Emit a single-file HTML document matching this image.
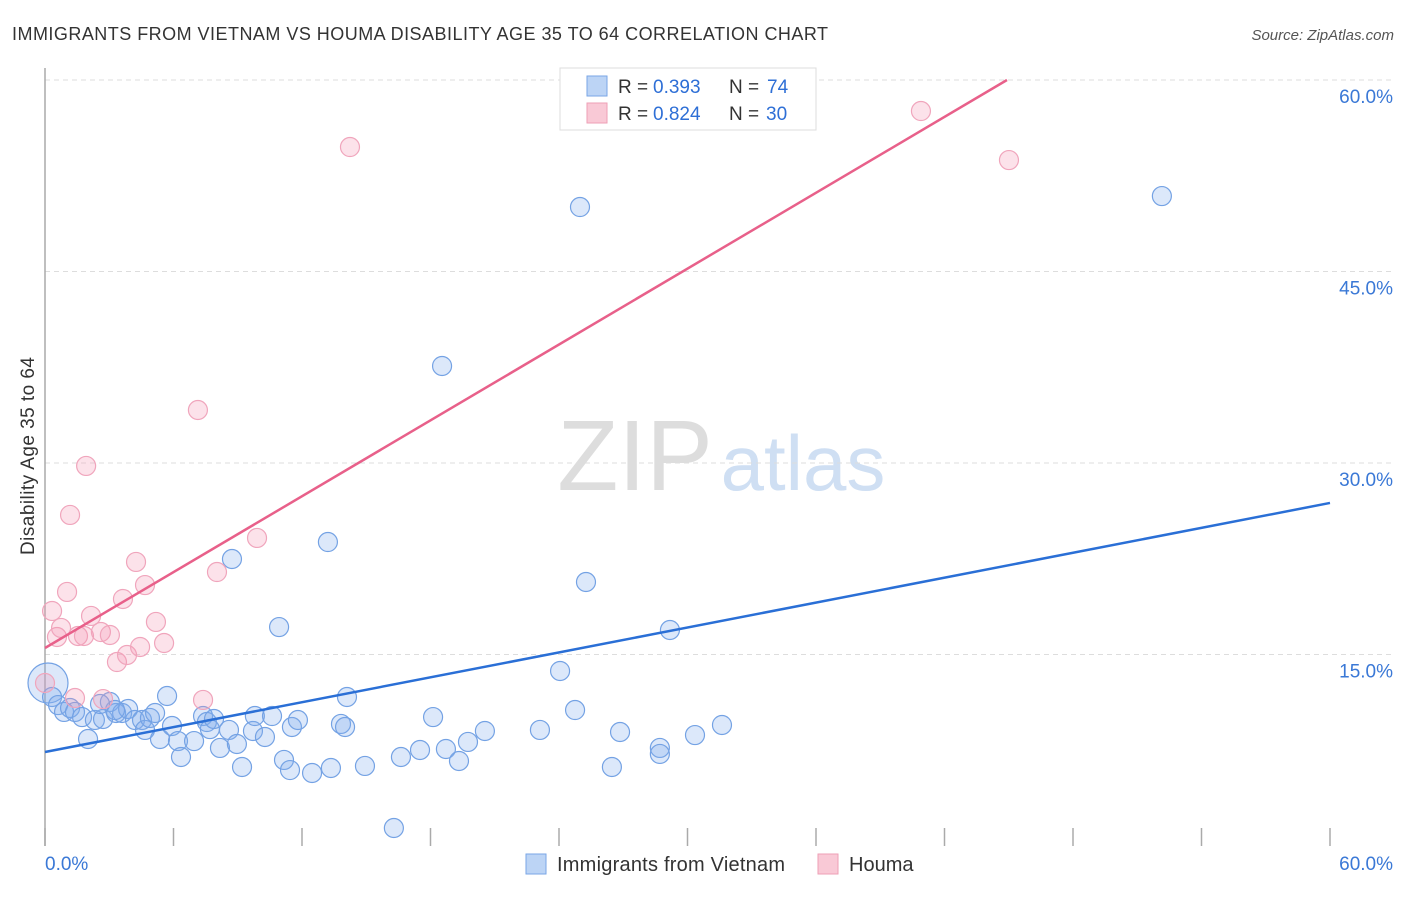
<!DOCTYPE html>
<html><head><meta charset="utf-8"><style>
body{margin:0;background:#fff;font-family:"Liberation Sans",sans-serif;}
svg text{font-family:"Liberation Sans",sans-serif;}
</style></head><body>
<svg id="chart" width="1406" height="892" xmlns="http://www.w3.org/2000/svg">
<text x="12" y="40" font-size="18" fill="#333" textLength="816">IMMIGRANTS FROM VIETNAM VS HOUMA DISABILITY AGE 35 TO 64 CORRELATION CHART</text>
<text x="1394" y="40" font-size="15" fill="#555" text-anchor="end" font-style="italic">Source: ZipAtlas.com</text>
<text x="635" y="490" font-size="100" fill="#ddd" font-family="Liberation Serif" text-anchor="middle">ZIP</text>
<text x="803" y="490" font-size="78" fill="#cfdff3" text-anchor="middle">atlas</text>
<text transform="translate(34,456) rotate(-90)" font-size="19" fill="#333" text-anchor="middle" textLength="198">Disability Age 35 to 64</text>
<g id="grid"></g><g id="axes"></g><g id="marks"></g>
<g>
<rect x="560" y="68" width="256" height="62" fill="#fff" stroke="#ddd"/>
<rect x="587" y="76" width="20" height="20" fill="#bcd4f5" stroke="#7aa6e6"/>
<rect x="587" y="103" width="20" height="20" fill="#f9c9d6" stroke="#ee9fb6"/>
<text x="618" y="93" font-size="19" fill="#333">R =</text>
<text x="653" y="93" font-size="19" fill="#2e6fd6">0.393</text>
<text x="729" y="93" font-size="19" fill="#333">N =</text>
<text x="767" y="93" font-size="19" fill="#2e6fd6">74</text>
<text x="618" y="120" font-size="19" fill="#333">R =</text>
<text x="653" y="120" font-size="19" fill="#2e6fd6">0.824</text>
<text x="729" y="120" font-size="19" fill="#333">N =</text>
<text x="766" y="120" font-size="19" fill="#2e6fd6">30</text>
</g>
<g>
<rect x="526" y="854" width="20" height="20" fill="#bcd4f5" stroke="#7aa6e6"/>
<text x="557" y="871" font-size="20" fill="#333" textLength="228">Immigrants from Vietnam</text>
<rect x="818" y="854" width="20" height="20" fill="#f9c9d6" stroke="#ee9fb6"/>
<text x="849" y="871" font-size="20" fill="#333">Houma</text>
</g>
</svg>
<script>
const blueX=[0.14,0.33,0.61,0.89,1.17,1.40,1.73,2.01,2.33,2.71,3.03,3.32,3.60,3.88,4.20,4.53,4.67,4.90,5.14,5.37,5.70,5.93,6.21,6.35,6.96,7.38,7.56,7.70,7.89,8.17,8.59,8.96,8.73,9.20,9.71,9.80,10.27,10.60,10.93,11.16,11.44,11.53,11.81,12.47,13.21,13.35,13.82,14.01,14.10,14.94,16.29,16.62,17.51,18.54,18.72,19.33,19.75,20.54,23.11,24.05,24.75,24.98,25.26,26.47,26.85,28.71,28.71,29.18,30.35,31.61,52.15,3.27,2.57,18.12];
const blueY=[12.77,11.67,11.04,10.50,10.81,10.50,10.10,8.38,9.87,9.95,11.28,10.42,10.42,10.73,9.87,9.87,9.09,10.03,10.42,8.38,11.75,9.40,8.22,6.97,8.22,10.18,9.71,9.16,9.95,7.68,9.09,7.99,22.48,6.19,9.01,10.18,8.54,10.18,17.15,6.74,5.95,9.32,9.87,5.72,23.81,6.11,9.56,9.32,11.67,6.27,1.41,6.97,7.52,37.60,7.60,6.66,8.15,9.01,9.09,13.71,10.65,50.05,20.68,6.19,8.93,7.68,7.21,16.92,8.69,9.48,50.91,10.65,11.12,10.10];
const pinkX=[0.00,0.33,0.56,0.75,1.03,1.17,1.40,1.54,1.82,1.92,2.15,2.61,2.71,3.03,3.36,3.64,3.83,4.25,4.44,4.67,5.18,5.56,7.14,7.38,8.03,9.90,14.24,40.90,45.01];
const pinkY=[12.77,18.41,16.37,17.08,19.90,25.93,11.59,16.45,16.45,29.77,18.02,16.76,11.51,16.53,14.41,19.35,14.96,22.25,15.59,20.44,17.55,15.90,34.15,11.44,21.46,24.13,54.75,57.57,53.73];
const trendBlue=[7.36,26.87];   // y at x=0, y at x=60
const trendPink=[15.51,0.9905]; // intercept, slope
const yTicks=[15,30,45,60];
const xTicks=[0,6,12,18,24,30,36,42,48,54,60];
const NS='http://www.w3.org/2000/svg';
const sx=v=>45+v/60*1285, sy=v=>846-v/60*766;
function mk(t,a,p){const e=document.createElementNS(NS,t);for(const k in a)e.setAttribute(k,a[k]);p.appendChild(e);return e;}
const grid=document.getElementById('grid'),axes=document.getElementById('axes'),marks=document.getElementById('marks');
yTicks.forEach(v=>{
 const l=mk('line',{x1:45,x2:1393,y1:sy(v),y2:sy(v),stroke:'#ddd','stroke-dasharray':'5,4'},grid);
 
 
 const t=mk('text',{x:1393,y:sy(v)+23,'font-size':19,fill:'#3a78d6','text-anchor':'end'},axes);
 t.textContent=v.toFixed(1)+'%';
 
 
});
const ax=mk('line',{x1:45,x2:45,y1:68,y2:846,stroke:'#aaa','stroke-width':1.5},axes);


xTicks.forEach(v=>{
 const l=mk('line',{x1:sx(v),x2:sx(v),y1:828,y2:846,stroke:'#aaa','stroke-width':1.5},axes);
 
 
});
[[0,45,'start'],[60,1393,'end']].forEach(([v,x,a])=>{
 const t=mk('text',{x:x,y:870,'font-size':19,fill:'#3a78d6','text-anchor':a},axes);
 t.textContent=v.toFixed(1)+'%';
 
 
});
blueX.forEach((x,i)=>{
 const c=mk('circle',{cx:sx(x),cy:sy(blueY[i]),r:i===0?20:9.5,fill:'rgba(130,172,238,0.28)',stroke:'#74a2e4','stroke-width':1.2},marks);
 
 
});
pinkX.forEach((x,i)=>{
 const c=mk('circle',{cx:sx(x),cy:sy(pinkY[i]),r:9.5,fill:'rgba(245,150,180,0.28)',stroke:'#f0a5bc','stroke-width':1.2},marks);
 
 
});
const bl=mk('line',{x1:sx(0),y1:sy(trendBlue[0]),x2:sx(60),y2:sy(trendBlue[1]),stroke:'#2a6fd6','stroke-width':2.5},marks);


const xe=(60-trendPink[0])/trendPink[1];
const pl=mk('line',{x1:sx(0),y1:sy(trendPink[0]),x2:sx(xe),y2:sy(60),stroke:'#e8608a','stroke-width':2.5},marks);


</script>
</body></html>
